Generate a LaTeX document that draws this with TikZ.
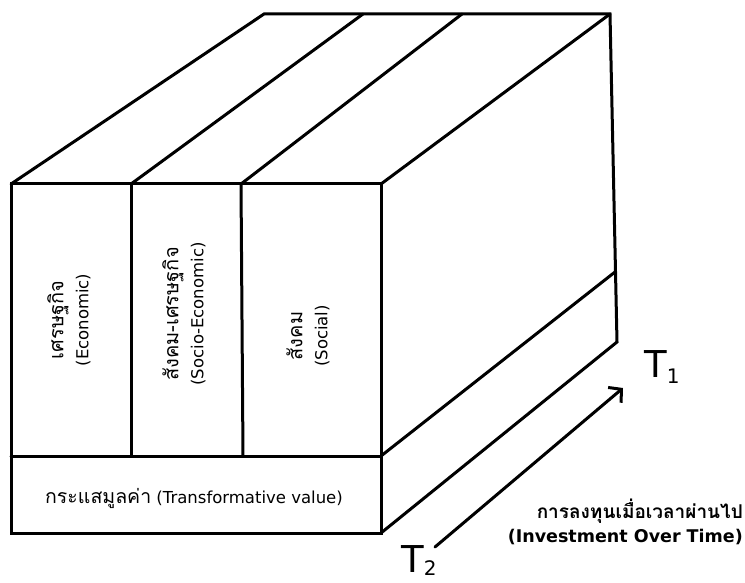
\documentclass[tikz,border=0pt]{standalone}
\usepackage{fontspec}
\setmainfont{DejaVu Sans}
\newfontfamily\thaifont[Script=Thai]{Loma}
\usetikzlibrary{arrows.meta}
\begin{document}
\begin{tikzpicture}[x=1pt,y=-1pt,
  edge/.style={line width=3pt,line join=miter,line cap=round},
  collabel/.style={rotate=90,align=center,inner sep=0pt,font=\fontsize{16.5}{25}\selectfont},
  tlabel/.style={inner sep=0pt,anchor=base west,font=\fontsize{37}{37}\selectfont}]
\useasboundingbox (0,0) rectangle (745,583);
% front face
\coordinate (FTL) at (11,184);
\coordinate (FTR) at (381,184);
\coordinate (FBL) at (11,533);
\coordinate (FBR) at (381,533);
\coordinate (ML) at (11,456);
\coordinate (MR) at (381,456);
\coordinate (D1t) at (131,184);
\coordinate (D1b) at (131,456);
\coordinate (D2t) at (241,184);
\coordinate (D2b) at (243,456);
% back top
\coordinate (BTL) at (264,14);
\coordinate (BD1) at (363,14);
\coordinate (BD2) at (462,14);
\coordinate (BTR) at (610,14);
% right face
\coordinate (RBR) at (617,342);
\coordinate (RMR) at (615,272);
% arrow
\coordinate (AS) at (435,547);
\coordinate (AE) at (623,388);

\draw[edge] (FTL) rectangle (FBR);
\draw[edge] (ML) -- (MR);
\draw[edge] (D1t) -- (D1b);
\draw[edge] (D2t) -- (D2b);
\draw[edge] (FTL) -- (BTL) -- (BTR) -- (RBR) -- (FBR);
\draw[edge] (D1t) -- (BD1);
\draw[edge] (D2t) -- (BD2);
\draw[edge] (FTR) -- (BTR);
\draw[edge] (MR) -- (RMR);
\draw[edge,-{Straight Barb[length=9pt,width=20pt]}] (AS) -- (AE);

% column labels
\node[collabel] (econ) at (69,320) {{\thaifont\fontsize{20}{25}\selectfont เศรษฐกิจ}\\(Economic)};
\node[collabel] (socio) at (184,314) {{\thaifont\fontsize{20}{25}\selectfont สังคม-เศรษฐกิจ}\\(Socio-Economic)};
\node[collabel] (social) at (308,336) {{\thaifont\fontsize{20}{25}\selectfont สังคม}\\(Social)};

\node[inner sep=0pt,font=\fontsize{16.5}{20}\selectfont] (trans) at (194,498) {{\thaifont\fontsize{19.5}{20}\selectfont กระแสมูลค่า} (Transformative value)};

\node[inner sep=0pt,anchor=east,font=\thaifont\bfseries\fontsize{19}{22}\selectfont] (invth) at (743,511) {การลงทุนเมื่อเวลาผ่านไป};
\node[inner sep=0pt,anchor=east,font=\bfseries\fontsize{17.5}{22}\selectfont] (inven) at (743,537) {(Investment Over Time)};

\node[tlabel] (t1) at (644,377) {T\raisebox{-6pt}{\fontsize{20}{20}\selectfont 1}};
\node[tlabel] (t2) at (401,572) {T\raisebox{-3pt}{\fontsize{20}{20}\selectfont 2}};
\end{tikzpicture}
\end{document}
